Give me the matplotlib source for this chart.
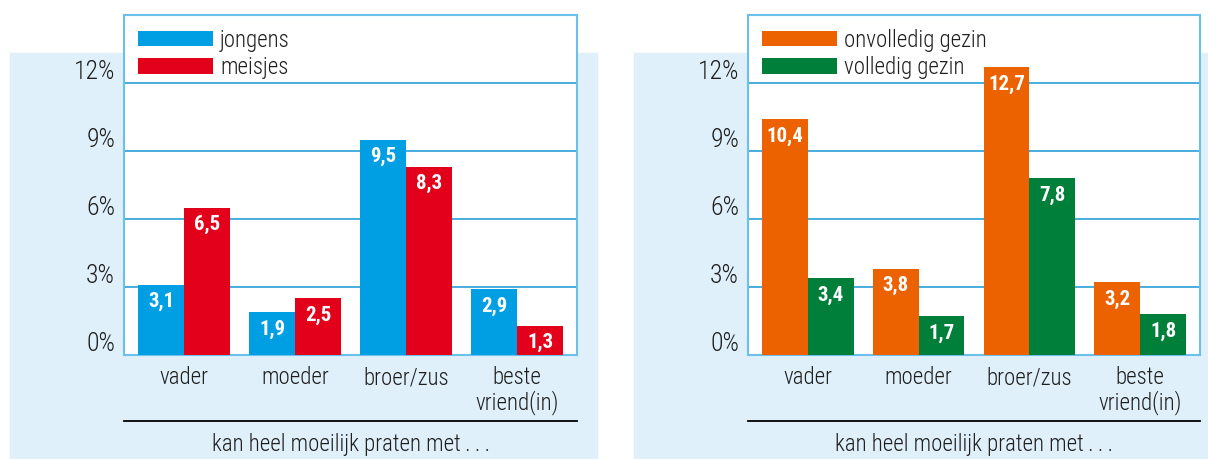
import matplotlib
matplotlib.use("Agg")
import matplotlib.pyplot as plt
from matplotlib.patches import Rectangle, Patch

plt.rcParams["font.family"] = ["Roboto Condensed", "Liberation Sans Narrow",
                               "Roboto", "DejaVu Sans"]
plt.rcParams["font.weight"] = "light"

categories = ["vader", "moeder", "broer/zus", "beste\nvriend(in)"]
yticks = [0, 3, 6, 9, 12]
ytick_labels = ["0%", "3%", "6%", "9%", "12%"]
xlabel_text = "kan heel moeilijk praten met\u2009.\u2009.\u2009."

# left panel: gender
jongens = [3.1, 1.9, 9.5, 2.9]
meisjes = [6.5, 2.5, 8.3, 1.3]
# right panel: family type
onvolledig = [10.4, 3.8, 12.7, 3.2]
volledig = [3.4, 1.7, 7.8, 1.8]

W, H = 1208, 459
BG = "#dff0fb"
GRID = "#2a9fd8"
EDGE = "#6cc0ec"
TXT = "#1e1e1e"


def fmt(v):
    return f"{v:.1f}".replace(".", ",")


def panel(fig, left_px, width_px, s1, s2, names, colors):
    ax = fig.add_axes([left_px / W, (H - 355) / H, width_px / W, 340 / H])
    ax.set_zorder(1)
    ax.set_facecolor("white")
    ax.set_xlim(-0.54, 3.54)
    ax.set_ylim(0, 15)
    w = 0.414
    x = range(len(categories))
    b1 = ax.bar([i - w / 2 for i in x], s1, width=w, color=colors[0], zorder=3)
    b2 = ax.bar([i + w / 2 for i in x], s2, width=w, color=colors[1], zorder=3)
    for bars, vals in ((b1, s1), (b2, s2)):
        for r, v in zip(bars, vals):
            ax.annotate(fmt(v), (r.get_x() + r.get_width() / 2, v),
                        xytext=(0, -17), textcoords="offset pixels",
                        ha="center", va="center", color="white",
                        fontsize=15, fontweight="bold", zorder=4)
    for y in yticks[1:]:
        ax.axhline(y, color=GRID, lw=1.2, zorder=2)
    for y, lab in zip(yticks, ytick_labels):
        ax.annotate(lab, (0, y), xycoords=("axes fraction", "data"),
                    xytext=(-9, 4), textcoords="offset pixels",
                    ha="right", va="baseline", fontsize=18.5, color=TXT,
                    annotation_clip=False)
    ax.set_yticks([])
    ax.set_xticks(list(x))
    ax.set_xticklabels(categories, fontsize=16.5, color=TXT, linespacing=1.05)
    ax.tick_params(axis="x", length=0, pad=8)
    for sp in ax.spines.values():
        sp.set_color(EDGE)
        sp.set_linewidth(1.5)
    ax.plot([0, 1], [-0.194, -0.194], transform=ax.transAxes, color="black",
            lw=1.3, clip_on=False)
    ax.text(0.5, -0.262, xlabel_text, transform=ax.transAxes, ha="center",
            va="center", fontsize=16.5, color=TXT)
    handles = [Patch(facecolor=colors[0]), Patch(facecolor=colors[1])]
    ax.legend(handles, names, loc="upper left", bbox_to_anchor=(0.03, 0.96),
              frameon=False, fontsize=16.5, handlelength=3.3, handleheight=0.66,
              handletextpad=0.3, labelspacing=0.2, borderpad=0,
              borderaxespad=0, labelcolor=TXT)
    return ax


fig = plt.figure(figsize=(W / 100, H / 100), dpi=100)
fig.patches.append(Rectangle((10 / W, 0), 587 / W, (H - 53) / H,
                             transform=fig.transFigure, color=BG, zorder=-1))
fig.patches.append(Rectangle((634 / W, 0), 574 / W, (H - 53) / H,
                             transform=fig.transFigure, color=BG, zorder=-1))

panel(fig, 124, 453, jongens, meisjes, ["jongens", "meisjes"],
      ["#009fe3", "#e2001a"])
panel(fig, 748, 452, onvolledig, volledig, ["onvolledig gezin", "volledig gezin"],
      ["#ec6100", "#007f3a"])

fig.savefig("out.png", dpi=100)
